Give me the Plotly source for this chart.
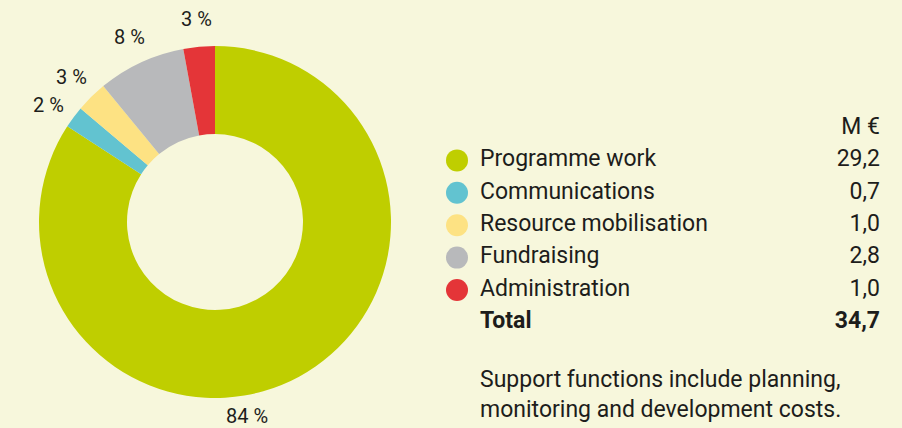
import math

import plotly.graph_objects as go

# data
categories = ["Programme work", "Communications", "Resource mobilisation", "Fundraising", "Administration"]
values_meur = [29.2, 0.7, 1.0, 2.8, 1.0]
slice_colors = ["#bfce00", "#62c3d0", "#fde283", "#b8b9bb", "#e43538"]
unit_label = "M €"
total_label = "Total"
footnote = "Support functions include planning,<br>monitoring and development costs."

BG = "#f7f7dc"
INK = "#1d1d1b"
FONT = "Roboto"
W, H = 902, 428

# donut geometry (pixels)
CX, CY, R = 215, 222, 176
LABEL_R = 204
# the big slice's label sits lower than its mid angle in the original
LABEL_ANGLE_NUDGE = {0: 19.3, 1: -1.5}
LABEL_R_NUDGE = {0: -7}


def fmt(v):
    return f"{v:.1f}".replace(".", ",")


total = sum(values_meur)
pct_text = [f"{round(v / total * 100)} %" for v in values_meur]

fig = go.Figure()

# donut
fig.add_trace(go.Pie(
    values=values_meur,
    labels=categories,
    textinfo="none",
    marker=dict(colors=slice_colors, line=dict(width=0)),
    hole=0.5,
    sort=False,
    direction="clockwise",
    rotation=0,
    showlegend=False,
    hoverinfo="label+value+percent",
    domain=dict(x=[(CX - R) / W, (CX + R) / W], y=[1 - (CY + R) / H, 1 - (CY - R) / H]),
))

# percentage labels outside the ring, at each slice's mid angle
cum = 0
for i, v in enumerate(values_meur):
    mid = (cum + v / 2) / total * 360 + LABEL_ANGLE_NUDGE.get(i, 0)
    cum += v
    a = math.radians(mid)
    r = LABEL_R + LABEL_R_NUDGE.get(i, 0)
    px = CX + r * math.sin(a)
    py = CY - r * math.cos(a)
    fig.add_annotation(
        text=pct_text[i], xref="paper", yref="paper",
        x=px / W, y=1 - py / H, xanchor="center", yanchor="middle",
        showarrow=False, font=dict(family=FONT, size=20, color=INK),
    )

# custom legend table: row 0 = header, rows 1..n = categories, last = total
n = len(categories)
rows = list(range(1, n + 1))

fig.add_trace(go.Scatter(
    x=[457] * n, y=rows, mode="markers",
    marker=dict(size=22, color=slice_colors, line=dict(width=0)),
    hoverinfo="skip", showlegend=False,
))
fig.add_trace(go.Scatter(
    x=[480] * (n + 1), y=rows + [n + 1], mode="text",
    text=categories + [f"<b>{total_label}</b>"],
    textposition="middle right",
    textfont=dict(family=FONT, size=23, color=INK),
    hoverinfo="skip", showlegend=False,
))
fig.add_trace(go.Scatter(
    x=[880] * (n + 2), y=[0] + rows + [n + 1], mode="text",
    text=[unit_label] + [fmt(v) for v in values_meur] + [f"<b>{fmt(total)}</b>"],
    textposition="middle left",
    textfont=dict(family=FONT, size=23, color=INK),
    hoverinfo="skip", showlegend=False,
))

row_h = 32.4
y_top = 128
fig.update_xaxes(range=[0, W], visible=False, fixedrange=True)
fig.update_yaxes(range=[(H - y_top) / row_h, -y_top / row_h], visible=False, fixedrange=True)

fig.add_annotation(
    text=footnote, xref="paper", yref="paper",
    x=478 / W, y=1 - 364 / H, xanchor="left", yanchor="top",
    align="left", showarrow=False,
    font=dict(family=FONT, size=23, color=INK),
)

fig.update_layout(
    width=W, height=H,
    margin=dict(l=0, r=0, t=0, b=0),
    paper_bgcolor=BG, plot_bgcolor=BG,
    font=dict(family=FONT, color=INK),
)

fig.write_html(
    "out.html",
    config={"displayModeBar": False},
    post_script="document.body.style.margin='0';",
)
